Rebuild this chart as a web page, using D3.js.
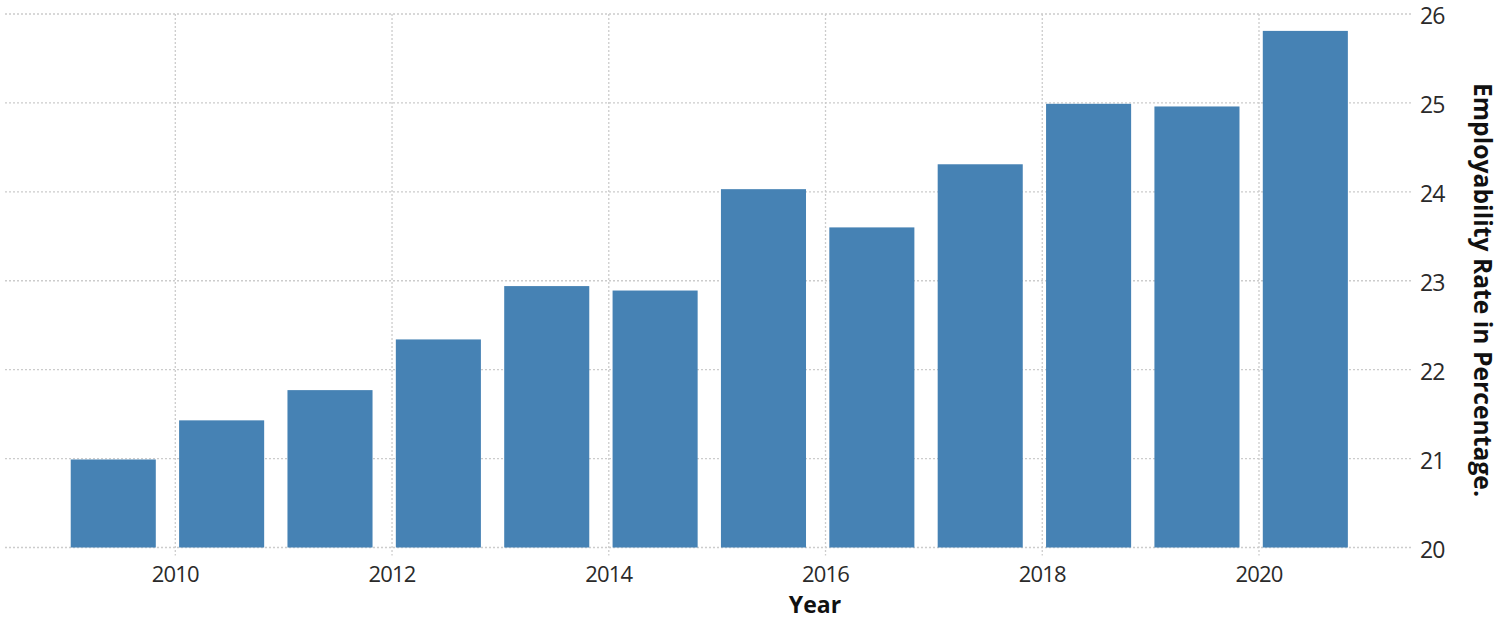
<!DOCTYPE html>
<html>
<head>
<meta charset="utf-8">
<script src="https://cdn.jsdelivr.net/npm/d3@7"></script>
<style>
  html, body { margin: 0; padding: 0; background: #fff; }
  svg { display: block; }
  text { font-family: "Open Sans", "Noto Sans", sans-serif; fill: #2a2a2a; }
</style>
</head>
<body>
<svg id="chart" width="1500" height="620"></svg>
<script>
const years = [2009, 2010, 2011, 2012, 2013, 2014, 2015, 2016, 2017, 2018, 2019, 2020];
const rates = [20.99, 21.43, 21.77, 22.34, 22.94, 22.89, 24.03, 23.60, 24.31, 24.99, 24.96, 25.81];
const xTicks = [2010, 2012, 2014, 2016, 2018, 2020];
const yTicks = [20, 21, 22, 23, 24, 25, 26];
const xTitle = "Year";
const yTitle = "Employability Rate in Percentage.";

const svg = d3.select("#chart");
const plotLeft = 5, plotRight = 1413, plotTop = 14, plotBottom = 547.5;

const x = d3.scaleLinear().domain([2010, 2020]).range([175.3, 1259]);
const y = d3.scaleLinear().domain([20, 26]).range([plotBottom, plotTop]);
const barStart = 0.035, barEnd = 0.82;

// horizontal gridlines
svg.append("g").selectAll("line").data(yTicks).join("line")
  .attr("x1", plotLeft).attr("x2", plotRight)
  .attr("y1", d => y(d)).attr("y2", d => y(d))
  .attr("stroke", "#cccccc").attr("stroke-width", 1.3)
  .attr("stroke-dasharray", "2,2");

// vertical gridlines
svg.append("g").selectAll("line").data(xTicks).join("line")
  .attr("x1", d => x(d)).attr("x2", d => x(d))
  .attr("y1", plotTop).attr("y2", plotBottom + 8)
  .attr("stroke", "#cccccc").attr("stroke-width", 1.3)
  .attr("stroke-dasharray", "2,2");

// bars
svg.append("g").selectAll("rect").data(years).join("rect")
  .attr("x", d => x(d + barStart))
  .attr("width", d => x(d + barEnd) - x(d + barStart))
  .attr("y", (d, i) => y(rates[i]))
  .attr("height", (d, i) => y(20) - y(rates[i]))
  .attr("fill", "#4682b4");

// x tick labels
svg.append("g").selectAll("text").data(xTicks).join("text")
  .attr("x", d => x(d)).attr("y", 582)
  .attr("text-anchor", "middle")
  .attr("font-size", 22).attr("letter-spacing", -0.8)
  .text(d => d);

// y tick labels
svg.append("g").selectAll("text").data(yTicks).join("text")
  .attr("x", 1420).attr("y", d => y(d) + 2)
  .attr("dy", "0.35em")
  .attr("font-size", 23).attr("letter-spacing", -1)
  .text(d => d);

// x title
svg.append("text")
  .attr("x", 815).attr("y", 613)
  .attr("text-anchor", "middle")
  .attr("font-size", 23).attr("font-weight", "bold")
  .style("fill", "#111")
  .text(xTitle);

// y title
svg.append("text")
  .attr("transform", "translate(1474,290) rotate(90)")
  .attr("text-anchor", "middle")
  .attr("font-size", 25).attr("font-weight", "bold")
  .attr("textLength", 414).attr("lengthAdjust", "spacingAndGlyphs")
  .style("fill", "#111")
  .text(yTitle);
</script>
</body>
</html>
